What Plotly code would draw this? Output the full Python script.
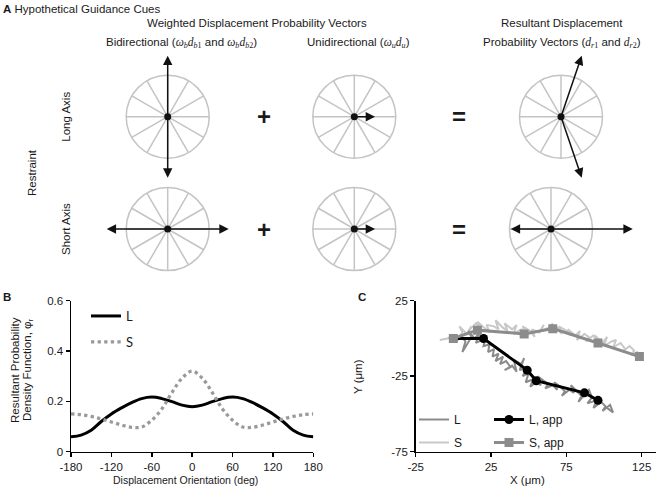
import math
import plotly.graph_objects as go

W, H = 657, 488
FONT = "Liberation Sans"
SERIF = "Liberation Serif"
TXT = "#1a1a1a"

# ---------------- Panel A data ----------------
restraints = ["Long Axis", "Short Axis"]
bidir_dirs_deg = [[90, -90], [180, 0]]     # directions of d_b1, d_b2
uni_dir_deg = [0, 0]                       # direction of d_u
omega_b = 1.47                             # weights (relative to circle radius)
omega_u = 0.50
spoke_angles_deg = [0, 30, 60, 90, 120, 150]

# ---------------- Panel B data ----------------
orient_deg = [-180, -165, -150, -135, -120, -105, -90, -75, -60, -45, -30, -15, 0,
              15, 30, 45, 60, 75, 90, 105, 120, 135, 150, 165, 180]
pdf_L = [0.059, 0.066, 0.085, 0.120, 0.150, 0.174, 0.195, 0.211, 0.217, 0.211, 0.199, 0.185, 0.179,
         0.185, 0.199, 0.211, 0.217, 0.211, 0.195, 0.174, 0.150, 0.120, 0.085, 0.066, 0.059]
pdf_S = [0.150, 0.147, 0.140, 0.130, 0.118, 0.106, 0.097, 0.098, 0.125, 0.170, 0.235, 0.292, 0.320,
         0.292, 0.235, 0.170, 0.125, 0.098, 0.097, 0.106, 0.118, 0.130, 0.140, 0.147, 0.150]
B_xticks = [-180, -120, -60, 0, 60, 120, 180]
B_yticks = [0, 0.2, 0.4, 0.6]

# ---------------- Panel C data ----------------
L_track = [(2, 0), (5, 2), (8, -2), (6, -9), (9, -4), (12, 1), (10, 5), (14, 0), (17, 3), (15, -3),
           (19, -1), (22, 2), (20, -5), (24, -4), (23, -9), (27, -7), (26, -12), (30, -10), (28, -15), (33, -12),
           (31, -17), (35, -15), (38, -19), (34, -21), (39, -18), (42, -22), (40, -14), (45, -17), (47, -13), (44, -21),
           (49, -19), (46, -25), (50, -23), (48, -29), (53, -27), (51, -32), (55, -29), (58, -31), (56, -25), (60, -28),
           (63, -30), (61, -33), (66, -31), (69, -34), (67, -29), (71, -32), (74, -35), (72, -38), (77, -34), (80, -36),
           (78, -31), (82, -35), (85, -38), (83, -42), (87, -37), (90, -34), (92, -39), (89, -43), (95, -41), (93, -46),
           (98, -42), (101, -45), (99, -48), (104, -44), (106, -49), (102, -46)]
S_track = [(-9, -1), (-4, 0), (0, 2), (3, -1), (6, 4), (4, 8), (9, 3), (12, 8), (10, 5), (15, 10),
           (18, 6), (16, 11), (21, 7), (24, 4), (22, 9), (27, 8), (30, 6), (28, 12), (33, 7), (36, 5),
           (34, 10), (39, 6), (42, 9), (40, 3), (45, 6), (48, 3), (46, 8), (51, 5), (54, 1), (52, 6),
           (57, 4), (60, 9), (58, 5), (63, 7), (66, 10), (64, 5), (69, 7), (72, 3), (70, 8), (75, 5),
           (78, 2), (76, 6), (81, 2), (84, 5), (82, -1), (87, 3), (90, 1), (88, -2), (93, 2), (96, -2),
           (94, 2), (99, -3), (102, 1), (100, -5), (105, -2), (108, -1), (106, -6), (111, -3), (114, -7), (112, -9),
           (117, -5), (120, -8), (118, -11), (122, -9), (124, -12)]
Lapp_x = [0, 20, 49, 55, 87, 96]
Lapp_y = [0, 0, -21, -28, -36, -41]
Sapp_x = [0, 16, 47, 66, 96, 123.5]
Sapp_y = [0, 5.5, 3, 6.5, -3, -12]
C_xticks = [-25, 25, 75, 125]
C_yticks = [-75, -25, 25]


def px(x):
    return x / W


def py(y):
    return 1 - y / H


fig = go.Figure()
shapes = []
annotations = []

# ---------------- Panel A drawing (x3/y3 = pixel-like frame) ----------------
R = 41.5
row_y = [116.7, 229.0]
col_x = [167.7, 354.3]
res_x = [561.0, 551.0]
plus_x, eq_x = 264.0, 459.0
GRAY = "#c4c4c4"


def add_wheel(cx, cy):
    shapes.append(dict(type="circle", xref="x3", yref="y3", x0=cx - R, x1=cx + R,
                       y0=cy - R, y1=cy + R, line=dict(color=GRAY, width=1.5), layer="below"))
    for a in spoke_angles_deg:
        dx, dy = R * math.cos(math.radians(a)), R * math.sin(math.radians(a))
        shapes.append(dict(type="line", xref="x3", yref="y3", x0=cx - dx, x1=cx + dx,
                           y0=cy - dy, y1=cy + dy, line=dict(color=GRAY, width=1.5), layer="below"))


def add_arrow(cx, cy, vx, vy):
    annotations.append(dict(xref="x3", yref="y3", axref="x3", ayref="y3",
                            x=cx + vx * R, y=cy - vy * R, ax=cx, ay=cy, text="",
                            showarrow=True, arrowhead=2, arrowsize=1.25, arrowwidth=1.5,
                            arrowcolor="#111111", standoff=0, startstandoff=0))


dot_x, dot_y = [], []
for r in range(2):
    cy = row_y[r]
    ub = [(omega_b * math.cos(math.radians(a)), omega_b * math.sin(math.radians(a)))
          for a in bidir_dirs_deg[r]]
    uu = (omega_u * math.cos(math.radians(uni_dir_deg[r])),
          omega_u * math.sin(math.radians(uni_dir_deg[r])))
    add_wheel(col_x[0], cy)
    for v in ub:
        add_arrow(col_x[0], cy, v[0], v[1])
    add_wheel(col_x[1], cy)
    add_arrow(col_x[1], cy, uu[0], uu[1])
    add_wheel(res_x[r], cy)
    for v in ub:
        add_arrow(res_x[r], cy, v[0] + uu[0], v[1] + uu[1])
    dot_x += [col_x[0], col_x[1], res_x[r]]
    dot_y += [cy, cy, cy]
    annotations.append(dict(xref="x3", yref="y3", x=plus_x, y=cy, text="<b>+</b>", showarrow=False,
                            font=dict(family=FONT, size=24, color=TXT)))
    annotations.append(dict(xref="x3", yref="y3", x=eq_x, y=cy, text="<b>=</b>", showarrow=False,
                            font=dict(family=FONT, size=24, color=TXT)))
    annotations.append(dict(xref="x3", yref="y3", x=66, y=cy, text=restraints[r], textangle=-90,
                            showarrow=False, font=dict(family=FONT, size=11.5, color=TXT)))

fig.add_trace(go.Scatter(x=dot_x, y=dot_y, xaxis="x3", yaxis="y3", mode="markers",
                         marker=dict(color="#111111", size=7), showlegend=False, hoverinfo="skip"))


def m(s):
    return f'<span style="font-family:{SERIF}">{s}</span>'


bi_txt = ("Bidirectional (" + m("<i>ω</i><sub><i>b</i></sub><i>d</i><sub><i>b</i>1</sub>")
          + " and " + m("<i>ω</i><sub><i>b</i></sub><i>d</i><sub><i>b</i>2</sub>") + ")")
uni_txt = "Unidirectional (" + m("<i>ω</i><sub><i>u</i></sub><i>d</i><sub><i>u</i></sub>") + ")"
res_txt = ("Probability Vectors (" + m("<i>d</i><sub><i>r</i>1</sub>") + " and "
           + m("<i>d</i><sub><i>r</i>2</sub>") + ")")


def txt(x, y, s, size=11.5, xanchor="center", angle=0, yanchor="middle"):
    annotations.append(dict(xref="paper", yref="paper", x=px(x), y=py(y), text=s, showarrow=False,
                            xanchor=xanchor, yanchor=yanchor, textangle=angle,
                            font=dict(family=FONT, size=size, color=TXT)))


txt(1, 9, "<b>A</b> Hypothetical Guidance Cues", xanchor="left")
txt(257, 23, "Weighted Displacement Probability Vectors")
txt(181, 43, bi_txt)
txt(358, 43, uni_txt)
txt(562, 23, "Resultant Displacement")
txt(562, 43, res_txt)
txt(32, 173, "Restraint", angle=-90)

# ---------------- Panel B ----------------
txt(1, 297, "<b>B</b>", xanchor="left")
txt(15, 370, "Resultant Probability", angle=-90)
txt(28, 370, "Density Function, φ<sub>r</sub>", angle=-90)
txt(185, 480, "Displacement Orientation (deg)", size=10.5)

fig.add_trace(go.Scatter(x=orient_deg, y=pdf_L, mode="lines", name="L", xaxis="x", yaxis="y",
                         line=dict(color="#000000", width=3, shape="spline", smoothing=1.0),
                         legend="legend", legendgroup="bL"))
fig.add_trace(go.Scatter(x=orient_deg, y=pdf_S, mode="lines", name="S", xaxis="x", yaxis="y",
                         line=dict(color="#9a9a9a", width=3.3, dash="dot", shape="spline", smoothing=1.0),
                         legend="legend", legendgroup="bS"))

# ---------------- Panel C ----------------
txt(356, 297, "<b>C</b>", xanchor="left")
txt(358, 377, "Y (μm)", angle=-90)
txt(527, 480, "X (μm)")

fig.add_trace(go.Scatter(x=[p[0] for p in S_track], y=[p[1] for p in S_track], mode="lines", name="S",
                         xaxis="x2", yaxis="y2", line=dict(color="#c8c8c8", width=2),
                         legend="legend2", legendrank=2, legendgroup="cS"))
fig.add_trace(go.Scatter(x=[p[0] for p in L_track], y=[p[1] for p in L_track], mode="lines", name="L",
                         xaxis="x2", yaxis="y2", line=dict(color="#8a8a8a", width=2),
                         legend="legend2", legendrank=1, legendgroup="cL"))
fig.add_trace(go.Scatter(x=Lapp_x, y=Lapp_y, mode="lines+markers", name="L, app", xaxis="x2", yaxis="y2",
                         line=dict(color="#000000", width=3), marker=dict(symbol="circle", size=9, color="#000000"),
                         legend="legend3", legendrank=1, legendgroup="cLa"))
fig.add_trace(go.Scatter(x=Sapp_x, y=Sapp_y, mode="lines+markers", name="S, app", xaxis="x2", yaxis="y2",
                         line=dict(color="#8c8c8c", width=3), marker=dict(symbol="square", size=9, color="#8c8c8c"),
                         legend="legend3", legendrank=2, legendgroup="cSa"))

axis_common = dict(showline=True, linecolor="#000000", linewidth=1.5, ticks="outside", ticklen=4,
                   tickwidth=1.5, tickcolor="#000000", showgrid=False, zeroline=False, automargin=False,
                   tickfont=dict(family=FONT, size=11.5, color=TXT), fixedrange=True, tickmode="array")

yb = [py(451.7), py(300.7)]
fig.update_layout(
    template="none",
    width=W, height=H, margin=dict(l=0, r=0, t=0, b=0, pad=0, autoexpand=False),
    paper_bgcolor="white", plot_bgcolor="rgba(0,0,0,0)",
    xaxis=dict(domain=[px(71), px(313.3)], range=[-180, 180], tickvals=B_xticks,
               ticktext=[str(v) for v in B_xticks], anchor="y", **axis_common),
    yaxis=dict(domain=yb, range=[0, 0.6], tickvals=B_yticks, ticktext=[f"{v:g}" for v in B_yticks],
               anchor="x", **axis_common),
    xaxis2=dict(domain=[px(415.7), px(656)], range=[-25, 134.5], tickvals=C_xticks,
                ticktext=[str(v) for v in C_xticks], anchor="y2", **axis_common),
    yaxis2=dict(domain=yb, range=[-75, 25], tickvals=C_yticks, ticktext=[str(v) for v in C_yticks],
                anchor="x2", **axis_common),
    xaxis3=dict(domain=[0, 1], range=[0, W], visible=False, anchor="y3", fixedrange=True, automargin=False),
    yaxis3=dict(domain=[0, 1], range=[H, 0], visible=False, anchor="x3", fixedrange=True, automargin=False),
    shapes=shapes,
    annotations=annotations,
    legend=dict(x=px(86), y=py(301), xanchor="left", yanchor="top", bgcolor="rgba(0,0,0,0)",
                font=dict(family="Lato", size=13, color=TXT), tracegroupgap=6, itemwidth=30),
    legend2=dict(x=px(414), y=py(405), xanchor="left", yanchor="top", bgcolor="rgba(0,0,0,0)",
                 font=dict(family=FONT, size=12, color=TXT), tracegroupgap=4, itemwidth=30),
    legend3=dict(x=px(489), y=py(405), xanchor="left", yanchor="top", bgcolor="rgba(0,0,0,0)",
                 font=dict(family=FONT, size=12, color=TXT), tracegroupgap=4, itemwidth=30),
    hovermode=False,
)

fig.write_html("out.html", config={"displayModeBar": False, "staticPlot": True},
               post_script="document.body.style.margin='0px';")
